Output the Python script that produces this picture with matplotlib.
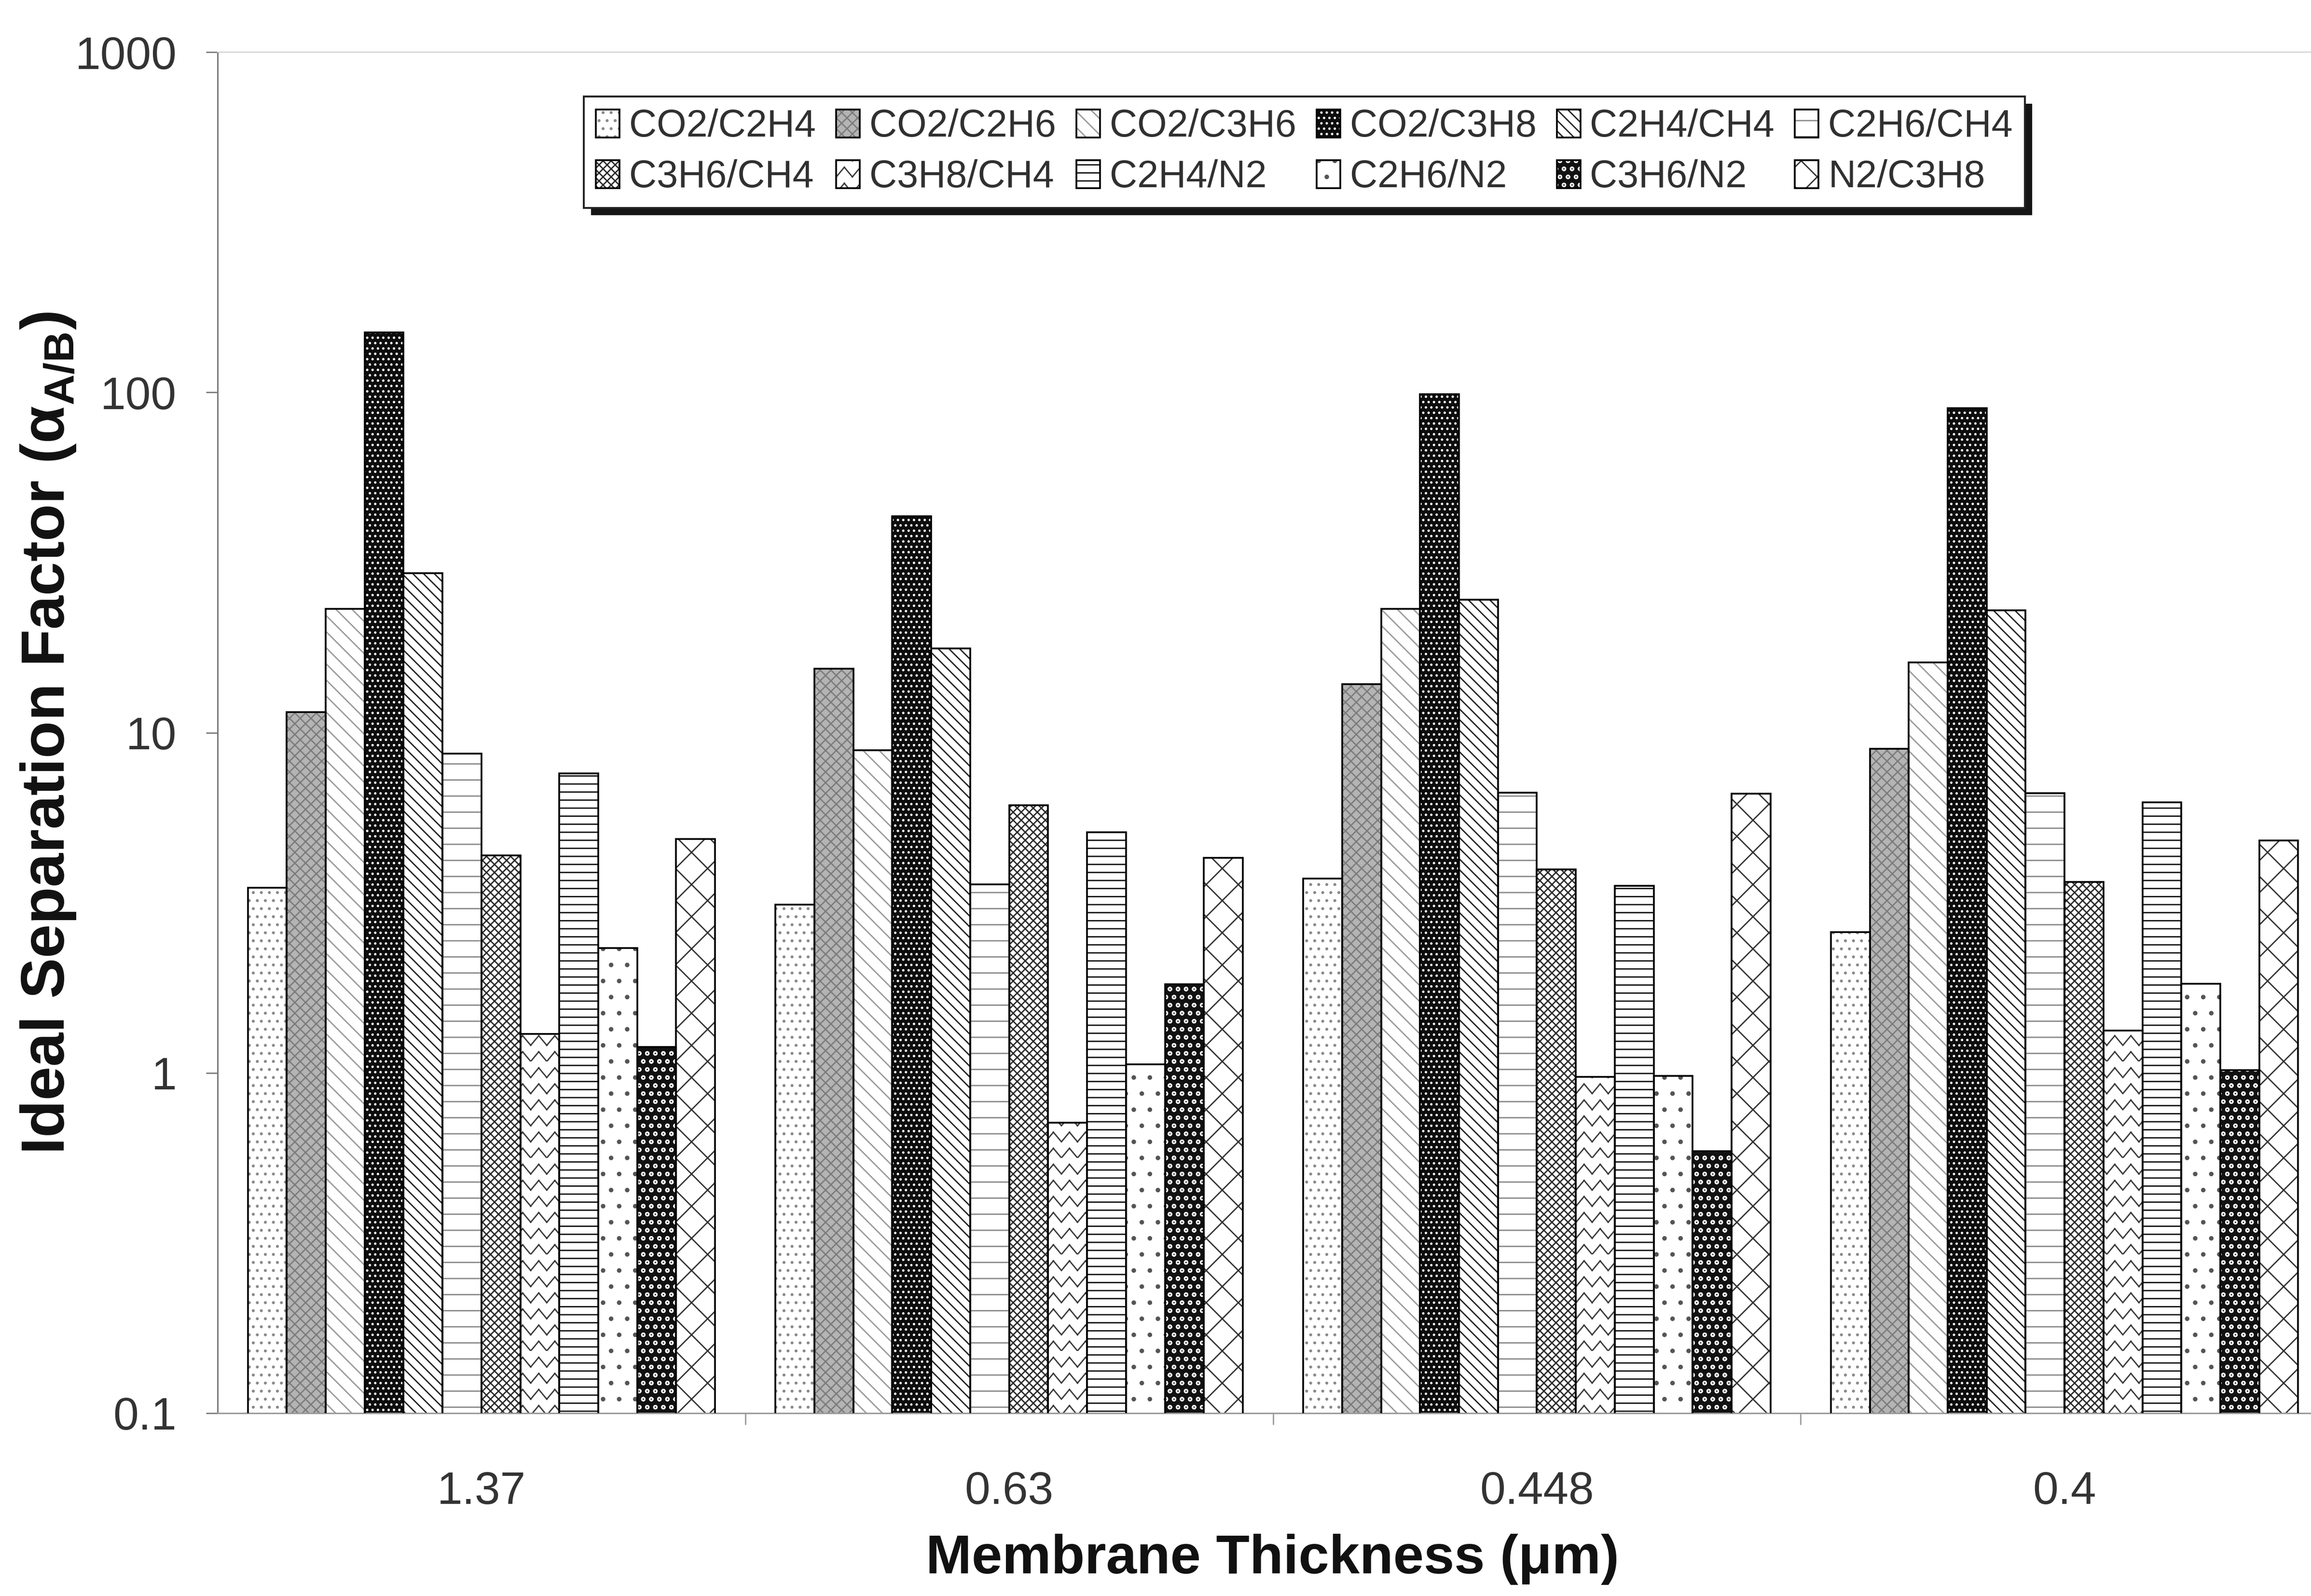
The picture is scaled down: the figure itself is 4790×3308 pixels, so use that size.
import warnings
import numpy as np
import matplotlib
matplotlib.use("Agg")
import matplotlib.pyplot as plt
from matplotlib import hatch as mhatch
from matplotlib.path import Path
from matplotlib.patches import Patch, Rectangle

# ---------------------------------------------------------------- data
thickness_labels = ["1.37", "0.63", "0.448", "0.4"]
gas_pairs = ["CO2/C2H4", "CO2/C2H6", "CO2/C3H6", "CO2/C3H8", "C2H4/CH4", "C2H6/CH4",
             "C3H6/CH4", "C3H8/CH4", "C2H4/N2", "C2H6/N2", "C3H6/N2", "N2/C3H8"]

# ideal separation factor for each gas pair (order of gas_pairs), one list per thickness
alpha_137 = [3.50, 11.5, 23.1, 150.0, 29.4, 8.68, 4.36, 1.30, 7.58, 2.33, 1.19, 4.86]
alpha_063 = [3.12, 15.4, 8.87, 43.2, 17.7, 3.58, 6.12, 0.713, 5.10, 1.06, 1.82, 4.28]
alpha_0448 = [3.72, 13.9, 23.1, 98.8, 24.6, 6.67, 3.96, 0.972, 3.55, 0.98, 0.588, 6.61]
alpha_040 = [2.59, 8.97, 16.1, 89.8, 22.9, 6.64, 3.64, 1.33, 6.24, 1.83, 1.02, 4.82]

y_ticks = [0.1, 1, 10, 100, 1000]
y_tick_labels = ["0.1", "1", "10", "100", "1000"]


# ------------------------------------------------------- zigzag hatch 'z'
class ZigZagHatch(mhatch.HatchPatternBase):
    """Rows of chevron zigzags, selected with the 'z' hatch character.

    Every stroke is its own two-point sub-path so that nothing gets filled.
    """

    def __init__(self, hatch, density):
        self.num_rows = int(hatch.count("z") * density)
        self.num_segments = 2 * max(1, self.num_rows)
        self.num_vertices = self.num_rows * self.num_segments * 2 if self.num_rows else 0

    def set_vertices_and_codes(self, vertices, codes):
        step = 1.0 / self.num_rows
        xs = np.linspace(0.0, 1.0, self.num_segments + 1)
        bump = np.where(np.arange(self.num_segments + 1) % 2 == 1, 0.6 * step, 0.0)
        k = 0
        for r in range(self.num_rows):
            ys = r * step + bump
            for s in range(self.num_segments):
                vertices[k] = (xs[s], ys[s])
                vertices[k + 1] = (xs[s + 1], ys[s + 1])
                codes[k] = Path.MOVETO
                codes[k + 1] = Path.LINETO
                k += 2


mhatch._hatch_types.append(ZigZagHatch)
warnings.filterwarnings("ignore", category=matplotlib.MatplotlibDeprecationWarning)

# ------------------------------------------------------------- styles
plt.rcParams["font.family"] = ["Liberation Sans", "DejaVu Sans"]
plt.rcParams["hatch.linewidth"] = 1.0
plt.rcParams["mathtext.default"] = "regular"

# (face colour, hatch, hatch colour) for each gas pair
styles = [
    ("white", "..", "#8a8a8a"),
    ("#b4b4b4", "xxx", "#7c7c7c"),
    ("white", "\\\\", "#9a9a9a"),
    ("#0d0d0d", "...", "white"),
    ("white", "\\\\\\", "#222222"),
    ("white", "-", "#8a8a8a"),
    ("white", "xxxx", "#2a2a2a"),
    ("white", "z", "#3a3a3a"),
    ("white", "--", "#111111"),
    ("white", ".", "#555555"),
    ("#111111", "oo", "white"),
    ("white", "x", "#333333"),
]

W, H = 4790, 3308
fig = plt.figure(figsize=(W / 200, H / 200), dpi=200)
fig.patch.set_facecolor("white")

# plot area (runs slightly past the right edge of the canvas)
ax_left, ax_right, ax_top, ax_bottom = 451, 4826, 108, 2929
ax = fig.add_axes([ax_left / W, 1 - ax_bottom / H,
                   (ax_right - ax_left) / W, (ax_bottom - ax_top) / H])
ax.set_yscale("log")

values = np.array([alpha_137, alpha_063, alpha_0448, alpha_040])
centers = np.arange(len(thickness_labels))
n = len(gas_pairs)
bar_w = 0.0738
edge_lw = 1.3

handles = []
for i, (name, (face, hatch, hcol)) in enumerate(zip(gas_pairs, styles)):
    xs = centers + (i - (n - 1) / 2) * bar_w
    vals = values[:, i]
    ax.bar(xs, vals, width=bar_w, facecolor=face, edgecolor=hcol, hatch=hatch,
           linewidth=0, zorder=2)
    ax.bar(xs, vals, width=bar_w, fill=False, edgecolor="black",
           linewidth=edge_lw, zorder=3)
    handles.append((Patch(facecolor=face, edgecolor=hcol, hatch=hatch, linewidth=0),
                    Patch(fill=False, edgecolor="black", linewidth=edge_lw)))

# axes, ticks and spines
ax.set_xlim(-0.5, len(thickness_labels) - 0.5)
ax.set_ylim(0.1, 1000)
ax.set_yticks(y_ticks)
ax.set_yticklabels(y_tick_labels)
ax.yaxis.set_minor_locator(matplotlib.ticker.NullLocator())
ax.set_xticks(centers)
ax.set_xticklabels(thickness_labels)
ax.set_xticks(centers[:-1] + 0.5, minor=True)

ax.tick_params(axis="y", which="major", direction="out", length=8.5, width=1.0,
               color="#7a7a7a", pad=22, labelsize=34, labelcolor="#333333")
ax.tick_params(axis="x", which="major", length=0, pad=43, labelsize=34,
               labelcolor="#333333")
ax.tick_params(axis="x", which="minor", direction="out", length=8.5, width=1.0,
               color="#9a9a9a")

ax.spines["left"].set_color("#7a7a7a")
ax.spines["left"].set_linewidth(1.1)
ax.spines["bottom"].set_color("#9a9a9a")
ax.spines["bottom"].set_linewidth(1.1)
ax.spines["top"].set_color("#cfcfcf")
ax.spines["top"].set_linewidth(0.8)
ax.spines["right"].set_visible(False)
ax.set_facecolor("white")

# axis titles
fig.text(100 / W, 1 - 1519 / H, "Ideal Separation Factor (α$_{\\mathregular{A/B}}$)",
         rotation=90, ha="center", va="center", fontsize=45.5, fontweight="bold",
         color="#111111")
fig.text(2637 / W, 1 - 3232 / H, "Membrane Thickness (μm)", ha="center", va="center",
         fontsize=41, fontweight="bold", color="#111111")

# legend: two rows of six, filled row by row
ncol = 6
order = [r * ncol + c for c in range(ncol) for r in range(2)]
lg_x0, lg_x1, lg_top, lg_bot = 1210, 4197, 200, 442
leg = fig.legend([handles[k] for k in order], [gas_pairs[k] for k in order],
                 ncol=ncol, mode="expand", loc="upper left",
                 bbox_to_anchor=(lg_x0 / W, 1 - lg_bot / H,
                                 (lg_x1 - lg_x0) / W, (lg_bot - lg_top) / H),
                 bbox_transform=fig.transFigure, borderaxespad=0,
                 fontsize=28.5, labelcolor="#303030", frameon=True, fancybox=False,
                 edgecolor="#222222", framealpha=1, handlelength=0.62,
                 handleheight=0.75, handletextpad=0.25, columnspacing=0.5,
                 labelspacing=0.38, borderpad=0.32)
leg.get_frame().set_linewidth(1.4)
leg.set_zorder(5)

# drop shadow along the lower and right edges of the legend box
fig.canvas.draw()
bb = leg.get_frame().get_window_extent(fig.canvas.get_renderer())
bb_fig = bb.transformed(fig.transFigure.inverted())
shadow = Rectangle((bb_fig.x0 + 15 / W, bb_fig.y0 - 15 / H), bb_fig.width, bb_fig.height,
                   transform=fig.transFigure, facecolor="#151515", edgecolor="none",
                   zorder=4)
fig.add_artist(shadow)

fig.savefig("out.png", dpi=200, facecolor="white")
